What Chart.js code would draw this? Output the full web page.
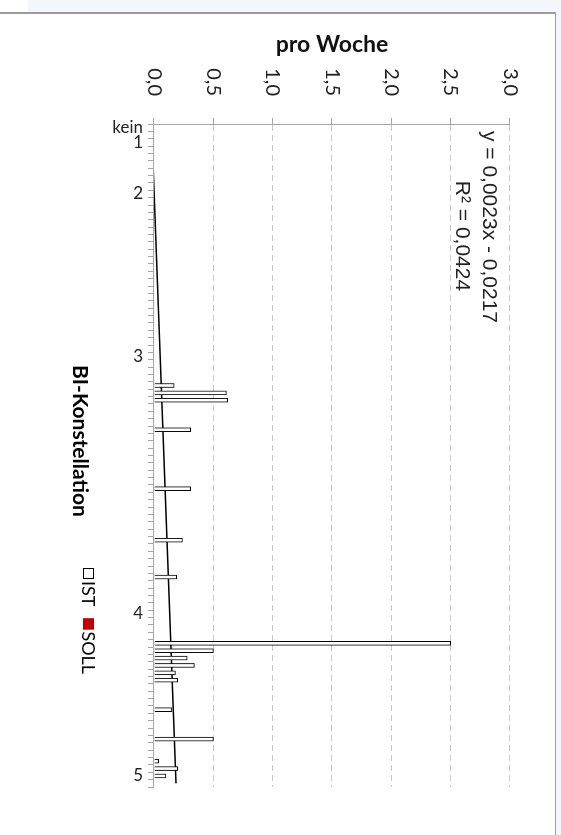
<!DOCTYPE html>
<html>
<head>
<meta charset="utf-8">
<script src="https://cdn.jsdelivr.net/npm/chart.js@4.4.0/dist/chart.umd.min.js"></script>
<style>
  body { margin: 0; width: 561px; height: 835px; background: #fff; position: relative; overflow: hidden; }
  #topband { position: absolute; left: 28px; top: 0; width: 533px; height: 12px; background: #f3f6fb; }
  #topline { position: absolute; left: 0; top: 12px; width: 556px; height: 2px; background: #9c9c9c; }
  #rightband { position: absolute; left: 556px; top: 12px; width: 5px; height: 823px; background: #f3f6fb; }
  #rightline { position: absolute; left: 555px; top: 12px; width: 1px; height: 823px; background: #9c9c9c; }
  /* chart is drawn landscape and turned 90deg clockwise */
  #wrap { position: absolute; left: 0; top: 0; width: 821px; height: 555px; transform-origin: 0 0; transform: translate(555px, 14px) rotate(90deg); }
</style>
</head>
<body>
<div id="topband"></div>
<div id="topline"></div>
<div id="rightband"></div>
<div id="rightline"></div>
<div id="wrap"><canvas id="myChart" width="821" height="555"></canvas></div>
<script>
// categories (BI-Konstellation), only some carry a label
const categories = [
  'kein', '', '1', '', '', '', '', '', '', '2',
  '', '', '', '', '', '', '', '', '', '',
  '', '', '', '', '', '', '', '', '', '',
  '', '3', '', '', '', '', '', '', '', '',
  '', '', '', '', '', '', '', '', '', '',
  '', '', '', '', '', '', '', '', '', '',
  '', '', '', '', '', '', '4', '', '', '',
  '', '', '', '', '', '', '', '', '', '',
  '', '', '', '', '', '', '', '', '5', ''
];

// IST, pro Woche
const istValues = [
  null, null, null, null, null, null, null, null, null, null,
  null, null, null, null, null, null, null, null, null, null,
  null, null, null, null, null, null, null, null, null, null,
  null, null, null, null, null, 0.17, 0.61, 0.62, null, null,
  null, 0.31, null, null, null, null, null, null, null, 0.31,
  null, null, null, null, null, null, 0.24, null, null, null,
  null, 0.19, null, null, null, null, null, null, null, null,
  2.5, 0.5, 0.28, 0.34, 0.18, 0.2, null, null, null, 0.15,
  null, null, null, 0.5, null, null, 0.04, 0.2, 0.1, null
];

// SOLL has no visible bars
const sollValues = [];

const valueTickLabels = ['0,0', '0,5', '1,0', '1,5', '2,0', '2,5', '3,0'];

// linear trendline as printed on the chart
const trendSlope = 0.0023;
const trendIntercept = -0.0217;
const trendLabel = ['y = 0,0023x - 0,0217', 'R\u00B2 = 0,0424'];

const trendData = categories.map((c, i) =>
  (i === 0 || i === categories.length - 1) ? trendSlope * (i + 1) + trendIntercept : null);

const legendItems = [
  { text: 'IST', fill: '#ffffff', stroke: '#000000' },
  { text: 'SOLL', fill: '#c00000', stroke: '#c00000' }
];

const overlay = {
  id: 'overlay',
  afterDraw(chart) {
    const { ctx, chartArea } = chart;
    ctx.save();
    // trendline label
    ctx.fillStyle = '#222';
    ctx.font = '21px "Liberation Sans", Arial, sans-serif';
    ctx.textAlign = 'center';
    ctx.textBaseline = 'middle';
    ctx.fillText(trendLabel[0], chartArea.left + 103, chartArea.top + 21);
    ctx.fillText(trendLabel[1], chartArea.left + 112, chartArea.top + 48);

    // legend: title and items in one row
    const ly = chartArea.bottom + 74;
    ctx.textAlign = 'left';
    ctx.fillStyle = '#000';
    ctx.font = 'bold 21px Lato, sans-serif';
    ctx.fillText('BI-Konstellation', 351, ly);
    let lx = 554;
    const iy = ly - 8;
    ctx.font = '18px Lato, sans-serif';
    legendItems.forEach(it => {
      ctx.fillStyle = it.fill;
      ctx.fillRect(lx, iy - 6, 11, 11);
      ctx.strokeStyle = it.stroke;
      ctx.lineWidth = 1;
      ctx.strokeRect(lx + 0.5, iy - 5.5, 10, 10);
      ctx.fillStyle = '#000';
      ctx.fillText(it.text, lx + 13, iy);
      lx += 13 + ctx.measureText(it.text).width + 12;
    });
    ctx.restore();
  }
};

Chart.defaults.font.family = 'Lato, sans-serif';

const ctx = document.getElementById('myChart').getContext('2d');
const myChart = new Chart(ctx, {
  type: 'bar',
  data: {
    labels: categories,
    datasets: [
      {
        label: 'IST',
        data: istValues,
        backgroundColor: '#ffffff',
        borderColor: '#000000',
        borderWidth: 1,
        barThickness: 4,
        grouped: false
      },
      {
        label: 'SOLL',
        data: sollValues,
        backgroundColor: '#c00000',
        borderColor: '#c00000',
        borderWidth: 1,
        barThickness: 4,
        grouped: false
      },
      {
        type: 'line',
        label: 'Trend',
        data: trendData,
        borderColor: '#000000',
        borderWidth: 1.5,
        pointRadius: 0,
        spanGaps: true,
        clip: 0
      }
    ]
  },
  options: {
    responsive: false,
    animation: false,
    layout: { padding: { left: 0, right: 48, top: 45, bottom: 0 } },
    plugins: {
      legend: { display: false },
      tooltip: { enabled: false }
    },
    scales: {
      x: {
        offset: true,
        grid: { display: true, drawOnChartArea: false, drawTicks: true, tickLength: 6, offset: true, color: '#a6a6a6' },
        border: { display: true, color: '#a6a6a6', width: 1 },
        ticks: { autoSkip: false, minRotation: 90, maxRotation: 90, padding: 5, color: '#222', font: { size: 17 } },
        afterFit: s => { s.height = 154; }
      },
      y: {
        min: 0,
        max: 3,
        ticks: {
          stepSize: 0.5,
          padding: 22,
          color: '#222',
          font: { size: 20 },
          callback: (v, i) => valueTickLabels[i]
        },
        grid: { color: '#c6c6c6', tickLength: 6, tickColor: '#a6a6a6' },
        border: { display: true, color: '#a6a6a6', dash: [6, 4] },
        title: { display: true, text: 'pro Woche', color: '#111', font: { size: 23, weight: 'bold' }, padding: { top: 17, bottom: 0 } },
        afterFit: s => { s.width = 110; }
      }
    }
  },
  plugins: [overlay]
});
</script>
</body>
</html>
